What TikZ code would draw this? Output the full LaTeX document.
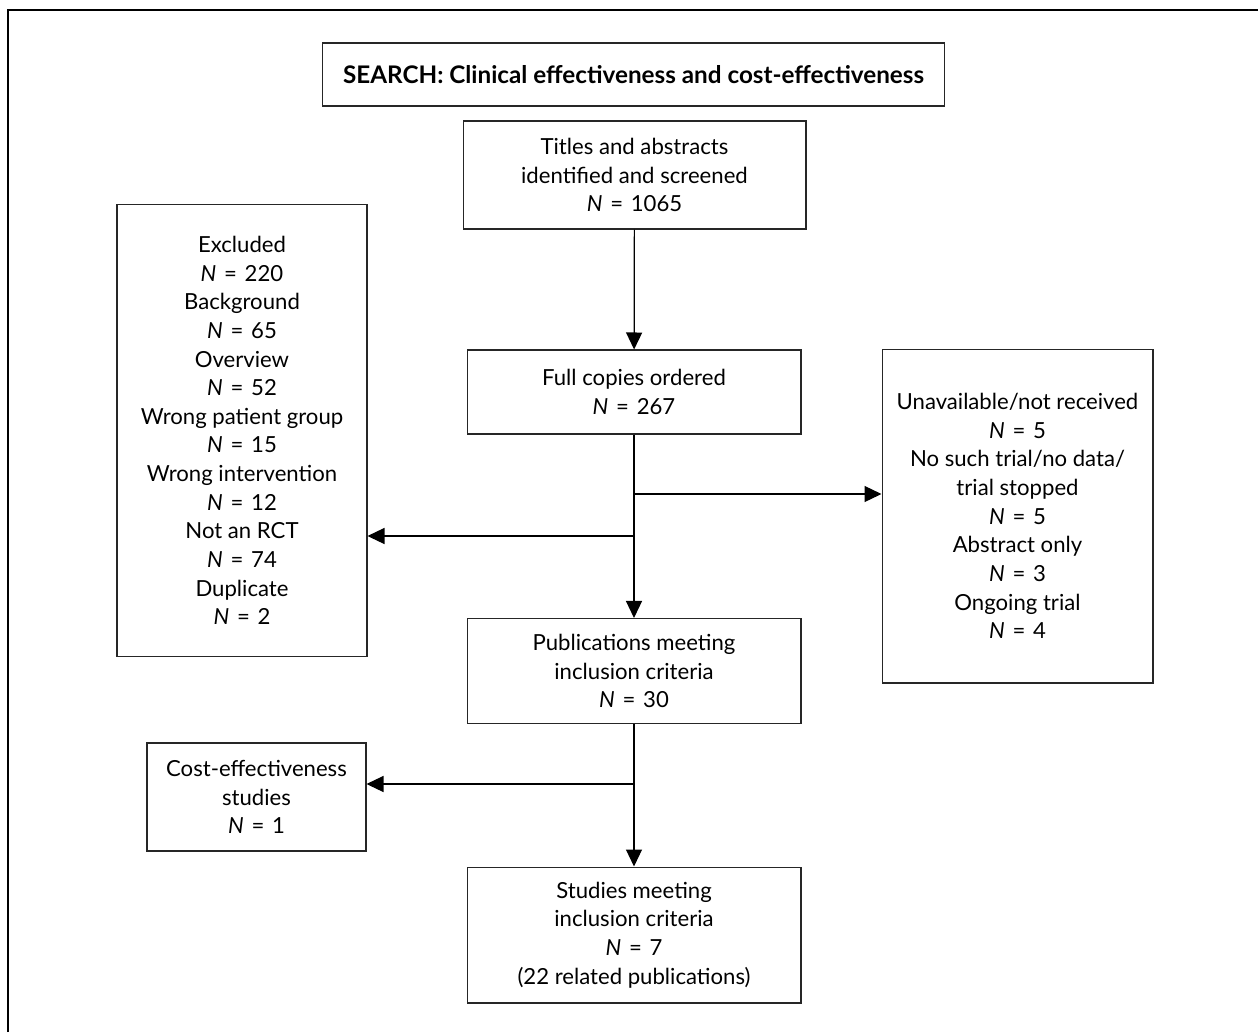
\documentclass[tikz,border=0pt]{standalone}
\usepackage{fontspec}
\setmainfont{Lato}
\usepackage{tikz}
\usetikzlibrary{positioning,arrows.meta}

\newcommand{\nval}[1]{\textit{N}\hspace{0.35em}=\hspace{0.35em}#1}

\begin{document}
\begin{tikzpicture}[x=0.02cm, y=-0.02cm,
  box/.style={draw=black!85, line width=0.6pt, align=center, inner sep=2pt,
    font=\fontsize{12.6}{16.3}\selectfont},
  arr/.style={draw=black, line width=0.7pt, -{Triangle[length=3.4mm, width=3.2mm]}}]
\useasboundingbox (0,0) rectangle (1258,1032);
% outer frame, cut by the page edge
\draw[line width=1.1pt] (8,1032) -- (8,10) -- (1258,10);

\node[box, minimum width=12.46cm, minimum height=1.26cm] (search) at (633.5,74.5)
  {\fontsize{13.8}{16}\selectfont\textbf{SEARCH: Clinical effectiveness and cost-effectiveness}};
\node[box, minimum width=6.86cm, minimum height=2.16cm] (titles) at (634.5,175)
  {Titles and abstracts\\identified and screened\\\nval{1065}};
\node[box, minimum width=6.68cm, minimum height=1.68cm] (full) at (634,392)
  {Full copies ordered\\\nval{267}};
\node[box, minimum width=5.0cm, minimum height=9.06cm] (excl) at (242,430.5)
  {Excluded\\\nval{220}\\Background\\\nval{65}\\Overview\\\nval{52}\\Wrong patient group\\\nval{15}\\Wrong intervention\\\nval{12}\\Not an RCT\\\nval{74}\\Duplicate\\\nval{2}};
\node[box, minimum width=5.42cm, minimum height=6.68cm] (unav) at (1017.5,516)
  {Unavailable/not received\\\nval{5}\\No such trial/no data/\\trial stopped\\\nval{5}\\Abstract only\\\nval{3}\\Ongoing trial\\\nval{4}};
\node[box, minimum width=6.68cm, minimum height=2.1cm] (pub) at (634,671)
  {Publications meeting\\inclusion criteria\\\nval{30}};
\node[box, minimum width=4.38cm, minimum height=2.16cm] (cost) at (256.5,797)
  {Cost-effectiveness\\studies\\\nval{1}};
\node[box, minimum width=6.68cm, minimum height=2.72cm] (studies) at (634,935)
  {Studies meeting\\inclusion criteria\\\nval{7}\\(22 related publications)};

\coordinate (splitR) at (634,494);
\coordinate (splitL) at (634,536);
\coordinate (splitC) at (634,784);

\draw[arr] (titles) -- (full);
\draw[arr] (full) -- (pub);
\draw[arr] (splitR) -- (splitR -| unav.west);
\draw[arr] (splitL) -- (splitL -| excl.east);
\draw[arr] (pub) -- (studies);
\draw[arr] (splitC) -- (splitC -| cost.east);
\end{tikzpicture}
\end{document}
